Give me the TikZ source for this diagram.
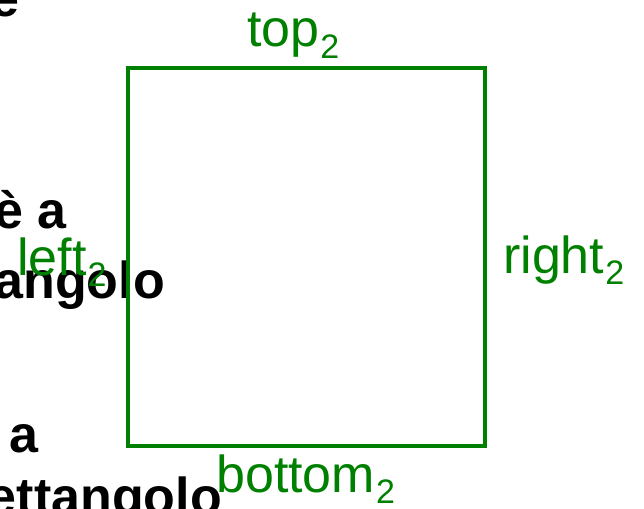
\documentclass[tikz,border=0pt]{standalone}
\usepackage{fontspec}
\setmainfont{Liberation Sans}
\usepackage{tikz}
\usetikzlibrary{positioning}
\definecolor{sidegreen}{RGB}{0,128,0}
\newcommand{\lblsub}[1]{\kern1pt\raisebox{-0.23em}{\fontsize{34}{34}\selectfont #1}}

\begin{document}
\begin{tikzpicture}[
  x=1pt, y=-1pt,
  square/.style={rectangle, draw=sidegreen, line width=3.5pt, inner sep=0pt,
                 minimum width=357pt, minimum height=378pt},
  sidelabel/.style={text=sidegreen, inner sep=0pt, anchor=base west,
                    font=\fontsize{52}{60}\selectfont},
  cuttext/.style={text=black, inner sep=0pt, anchor=base east,
                  font=\fontsize{52}{60}\selectfont\bfseries}
]
  \clip (0,0) rectangle (644,508);

  % text of the page behind the figure
  \node[cuttext] (t1) at (20,17)   {e};
  \node[cuttext] (t2) at (67,228)  {è a};
  \node[cuttext] (t3) at (165,298) {angolo};
  \node[cuttext] (t4) at (39,452)  {a};
  \node[cuttext] (t5) at (222,514) {ettangolo};

  \node[square] (sq) at (306.5,257) {};

  \node[sidelabel] (top)    at (247,47)  {top\lblsub{2}};
  \node[sidelabel] (right)  at (503,273) {right\lblsub{2}};
  \node[sidelabel] (left)   at (17,275)  {left\lblsub{2}};
  \node[sidelabel] (bottom) at (216,492) {bottom\lblsub{2}};
\end{tikzpicture}
\end{document}
